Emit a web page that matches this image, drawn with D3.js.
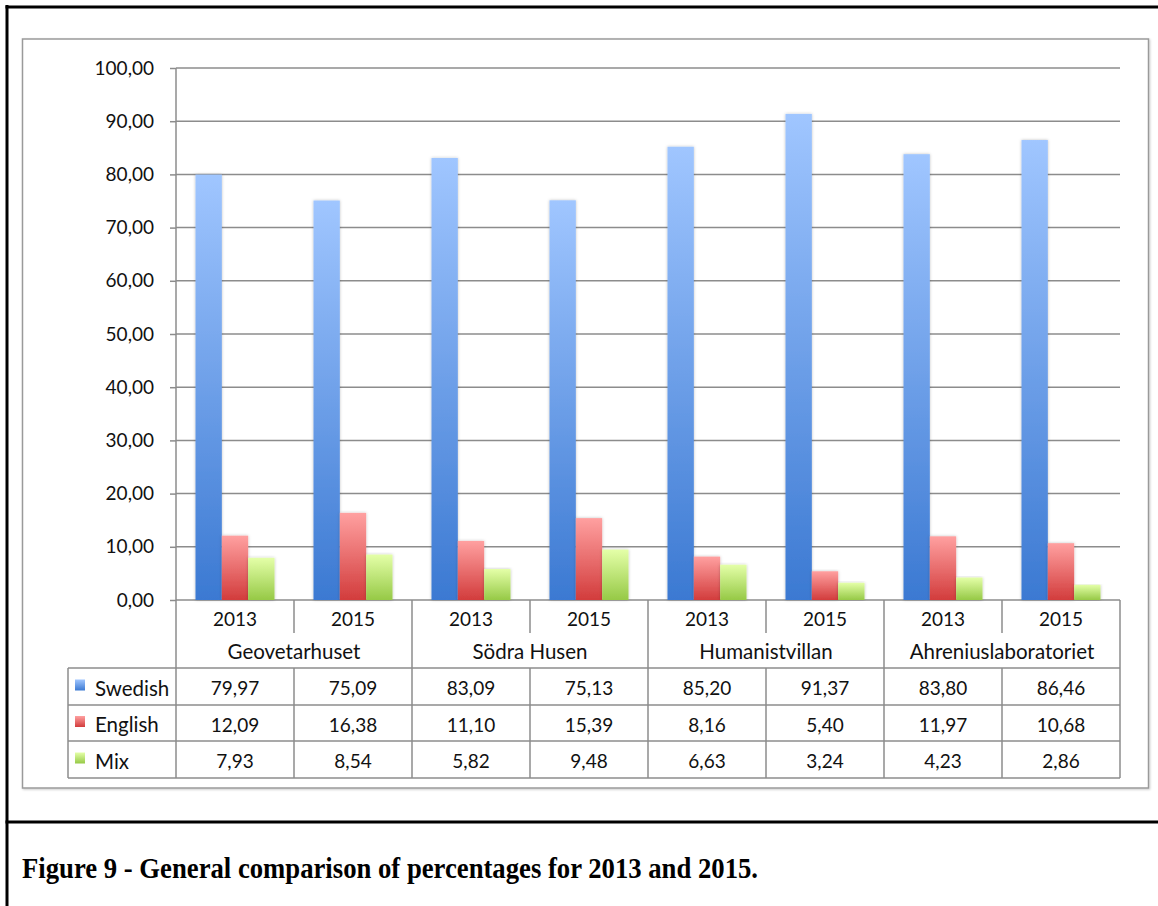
<!DOCTYPE html>
<html>
<head>
<meta charset="utf-8">
<script src="https://cdn.jsdelivr.net/npm/d3@7"></script>
<style>
  html, body { margin: 0; padding: 0; background: #fff; }
  svg { display: block; }
  .lbl { font-family: "Lato", "Open Sans", sans-serif; font-size: 19px; fill: #111; }
  .word { font-size: 20.5px; }
  .cap { font-family: "Liberation Serif", "Times New Roman", serif; font-weight: bold; font-size: 30px; fill: #000; }
</style>
</head>
<body>
<svg id="chart" width="1158" height="906"></svg>
<script>
// Buildings, survey years and language series
const groups = ["Geovetarhuset", "Södra Husen", "Humanistvillan", "Ahreniuslaboratoriet"];
const years = ["2013", "2015"];
const seriesNames = ["Swedish", "English", "Mix"];
const swedish = [79.97, 75.09, 83.09, 75.13, 85.20, 91.37, 83.80, 86.46];
const english = [12.09, 16.38, 11.10, 15.39, 8.16, 5.40, 11.97, 10.68];
const mix = [7.93, 8.54, 5.82, 9.48, 6.63, 3.24, 4.23, 2.86];
const yTicks = [0, 10, 20, 30, 40, 50, 60, 70, 80, 90, 100];
const caption = "Figure 9 - General comparison of percentages for 2013 and 2015.";

const seriesValues = [swedish, english, mix];
const palette = [
  { top: "#a0c6ff", bottom: "#3b79d2" },
  { top: "#ffa0a0", bottom: "#d23c3c" },
  { top: "#e4ffa8", bottom: "#96c946" }
];

// Columns: one per building/year pair
const columns = [];
groups.forEach(g => years.forEach(y => columns.push({ group: g, year: y })));

const locale = d3.formatLocale({ decimal: ",", thousands: " ", grouping: [3], currency: ["", ""] });
const fmt = locale.format(".2f");

const svg = d3.select("#chart");
const defs = svg.append("defs");

palette.forEach((p, i) => {
  const g = defs.append("linearGradient").attr("id", "grad" + i)
    .attr("x1", 0).attr("y1", 0).attr("x2", 0).attr("y2", 1);
  g.append("stop").attr("offset", "0%").attr("stop-color", p.top);
  g.append("stop").attr("offset", "100%").attr("stop-color", p.bottom);
});
const sh = defs.append("filter").attr("id", "soft").attr("x", "-20%").attr("y", "-5%").attr("width", "140%").attr("height", "110%");
sh.append("feDropShadow").attr("dx", 0).attr("dy", 0).attr("stdDeviation", 1.4)
  .attr("flood-color", "#000").attr("flood-opacity", 0.25);
const boxSh = defs.append("filter").attr("id", "boxsh").attr("x", "-2%").attr("y", "-2%").attr("width", "104%").attr("height", "104%");
boxSh.append("feDropShadow").attr("dx", 1).attr("dy", 1).attr("stdDeviation", 1)
  .attr("flood-color", "#000").attr("flood-opacity", 0.2);

// Page frame lines
svg.append("line").attr("x1", 7).attr("x2", 7).attr("y1", 5).attr("y2", 906).attr("stroke", "#000").attr("stroke-width", 3);
svg.append("line").attr("x1", 5.5).attr("x2", 1158).attr("y1", 7).attr("y2", 7).attr("stroke", "#000").attr("stroke-width", 3);
svg.append("line").attr("x1", 5.5).attr("x2", 1158).attr("y1", 822).attr("y2", 822).attr("stroke", "#000").attr("stroke-width", 3);

// Chart box
svg.append("rect").attr("x", 22.5).attr("y", 39).attr("width", 1126).attr("height", 749)
  .attr("fill", "#fff").attr("stroke", "#9a9a9a").attr("stroke-width", 1.5).attr("filter", "url(#boxsh)");

const plotLeft = 176, plotRight = 1120, plotTop = 68, base = 600;
const x = d3.scaleBand().domain(d3.range(columns.length)).range([plotLeft, plotRight]).padding(0);
const x1 = d3.scaleBand().domain(seriesNames).range([19.5, x.bandwidth() - 19.5]).padding(0);
const y = d3.scaleLinear().domain([0, 100]).range([base, plotTop]);

// Gridlines and y axis
const yAxis = d3.axisLeft(y).tickValues(yTicks).tickFormat(fmt).tickSize(6).tickPadding(16);
const gy = svg.append("g").attr("transform", `translate(${plotLeft},0)`).call(yAxis);
gy.attr("font-family", null).attr("font-size", null);
gy.select(".domain").remove();
gy.selectAll(".tick line").attr("stroke", "#8c8c8c").attr("stroke-width", 1.5);
gy.selectAll(".tick text").attr("class", "lbl");

svg.append("g").selectAll("line").data(yTicks).join("line")
  .attr("x1", plotLeft).attr("x2", plotRight)
  .attr("y1", d => y(d)).attr("y2", d => y(d))
  .attr("stroke", "#8c8c8c").attr("stroke-width", 1.5);

// Bars
const barG = svg.append("g");
seriesNames.forEach((s, si) => {
  barG.append("g").selectAll("rect").data(seriesValues[si]).join("rect")
    .attr("x", (d, i) => x(i) + x1(s))
    .attr("width", x1.bandwidth())
    .attr("y", d => y(d))
    .attr("height", d => base - y(d))
    .attr("fill", `url(#grad${si})`)
    .attr("filter", "url(#soft)");
});

// Y axis line, drawn above the bars
svg.append("line").attr("x1", plotLeft).attr("x2", plotLeft).attr("y1", plotTop).attr("y2", 778)
  .attr("stroke", "#8c8c8c").attr("stroke-width", 1.5);

// Data table
const tableLeft = 68;
const rowEdges = [600, 634, 668, 705, 741, 778];
const gridStroke = "#8c8c8c";
const tg = svg.append("g");

// column dividers
columns.forEach((c, i) => {
  const xr = x(i) + x.bandwidth();
  const full = (i % 2 === 1);
  tg.append("line").attr("x1", xr).attr("x2", xr)
    .attr("y1", base).attr("y2", full ? 778 : 633)
    .attr("stroke", gridStroke).attr("stroke-width", 1.5);
  if (!full) {
    tg.append("line").attr("x1", xr).attr("x2", xr).attr("y1", 668).attr("y2", 778)
      .attr("stroke", gridStroke).attr("stroke-width", 1.5);
  }
});
// horizontal lines
[668, 705, 741, 778].forEach(yy => {
  tg.append("line").attr("x1", tableLeft).attr("x2", plotRight).attr("y1", yy).attr("y2", yy)
    .attr("stroke", gridStroke).attr("stroke-width", 1.5);
});
tg.append("line").attr("x1", tableLeft).attr("x2", tableLeft).attr("y1", 668).attr("y2", 778)
  .attr("stroke", gridStroke).attr("stroke-width", 1.5);

// year labels
tg.append("g").selectAll("text").data(columns).join("text")
  .attr("class", "lbl").attr("text-anchor", "middle")
  .attr("x", (d, i) => x(i) + x.bandwidth() / 2)
  .attr("y", (rowEdges[0] + rowEdges[1]) / 2 + 1)
  .attr("dominant-baseline", "central")
  .text(d => d.year);

// building labels
tg.append("g").selectAll("text").data(groups).join("text")
  .attr("class", "lbl word").attr("text-anchor", "middle")
  .attr("x", (d, i) => x(i * 2) + x.bandwidth())
  .attr("y", (rowEdges[1] + rowEdges[2]) / 2)
  .attr("dominant-baseline", "central")
  .text(d => d);

// series rows
seriesNames.forEach((s, si) => {
  const cy = (rowEdges[si + 2] + rowEdges[si + 3]) / 2;
  tg.append("rect").attr("x", 75).attr("y", cy - 7).attr("width", 10).attr("height", 11)
    .attr("fill", `url(#grad${si})`);
  tg.append("text").attr("class", "lbl word").attr("x", 95).attr("y", cy + 1)
    .attr("dominant-baseline", "central").text(s);
  tg.append("g").selectAll("text").data(seriesValues[si]).join("text")
    .attr("class", "lbl").attr("text-anchor", "middle")
    .attr("x", (d, i) => x(i) + x.bandwidth() / 2)
    .attr("y", cy + 1)
    .attr("dominant-baseline", "central")
    .text(d => fmt(d));
});

// Caption
svg.append("text").attr("class", "cap").attr("x", 22).attr("y", 878)
  .attr("textLength", 736).attr("lengthAdjust", "spacingAndGlyphs")
  .text(caption);
</script>
</body>
</html>
